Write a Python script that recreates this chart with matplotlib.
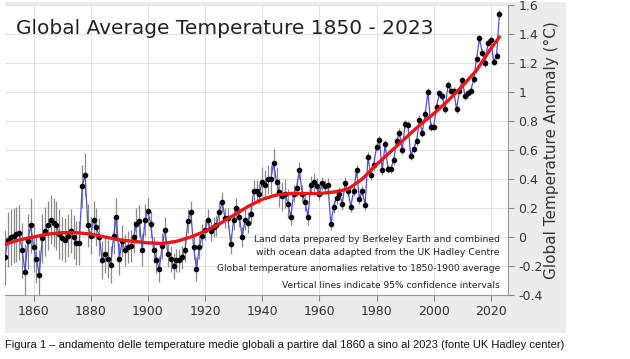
import matplotlib.pyplot as plt
import matplotlib as mpl
from matplotlib.patches import Rectangle

mpl.rcParams['axes.unicode_minus'] = False

# annual anomalies (deg C, relative to 1850-1900)
years = list(range(1850, 2024))
anomaly = [
    -0.14, -0.02, 0.00, 0.01, 0.02, 0.03, -0.09, -0.24, -0.03, 0.08,
    -0.07, -0.15, -0.26, -0.01, 0.04, 0.08, 0.12, 0.10, 0.08, 0.02,
    -0.01, -0.02, 0.01, 0.04, 0.00, -0.04, -0.04, 0.35, 0.43, 0.08,
    0.01, 0.12, 0.07, 0.00, -0.16, -0.12, -0.15, -0.19, 0.01, 0.14,
    -0.15, -0.03, -0.09, -0.07, -0.06, 0.00, 0.09, 0.11, -0.09, 0.12,
    0.18, 0.09, -0.09, -0.16, -0.22, -0.06, 0.05, -0.12, -0.15, -0.20,
    -0.16, -0.16, -0.14, -0.09, 0.11, 0.17, -0.07, -0.22, -0.07, 0.01,
    0.05, 0.12, 0.04, 0.07, 0.08, 0.17, 0.24, 0.13, 0.13, -0.05,
    0.12, 0.20, 0.14, 0.00, 0.12, 0.10, 0.16, 0.32, 0.32, 0.30,
    0.38, 0.36, 0.40, 0.40, 0.51, 0.38, 0.31, 0.28, 0.30, 0.23,
    0.14, 0.30, 0.34, 0.46, 0.30, 0.24, 0.14, 0.36, 0.38, 0.35,
    0.30, 0.37, 0.35, 0.36, 0.09, 0.21, 0.27, 0.30, 0.23, 0.37,
    0.32, 0.21, 0.32, 0.46, 0.26, 0.32, 0.22, 0.55, 0.43, 0.50,
    0.62, 0.67, 0.46, 0.64, 0.47, 0.47, 0.53, 0.66, 0.72, 0.60,
    0.78, 0.77, 0.56, 0.61, 0.66, 0.81, 0.72, 0.85, 1.00, 0.76,
    0.76, 0.90, 0.99, 0.97, 0.88, 1.05, 1.01, 1.01, 0.88, 1.01,
    1.08, 0.97, 0.99, 1.01, 1.09, 1.23, 1.37, 1.27, 1.20, 1.34,
    1.36, 1.21, 1.25, 1.54,
]

# 95% half widths per decade (1850s ... 2020s)
decade_start = list(range(1850, 2030, 10))
decade_unc = [0.19, 0.17, 0.15, 0.13, 0.11, 0.09, 0.08, 0.07, 0.07,
              0.10, 0.06, 0.045, 0.035, 0.03, 0.03, 0.025, 0.025, 0.025]

# smoothed (red) curve
smooth_years = [1850, 1855, 1860, 1865, 1870, 1875, 1880, 1885, 1890, 1895,
                1900, 1905, 1910, 1915, 1920, 1925, 1930, 1935, 1940, 1945,
                1950, 1955, 1960, 1965, 1970, 1975, 1980, 1985, 1990, 1995,
                2000, 2005, 2010, 2015, 2020, 2023]
smooth_vals = [-0.05, -0.02, 0.00, 0.02, 0.03, 0.03, 0.02, 0.00, -0.02, -0.03,
               -0.04, -0.045, -0.03, 0.00, 0.04, 0.09, 0.15, 0.21, 0.26, 0.29,
               0.30, 0.30, 0.30, 0.31, 0.33, 0.40, 0.50, 0.59, 0.68, 0.77,
               0.85, 0.94, 1.04, 1.15, 1.30, 1.38]

xticks = [1860, 1880, 1900, 1920, 1940, 1960, 1980, 2000, 2020]
yticks = [-0.4, -0.2, 0, 0.2, 0.4, 0.6, 0.8, 1, 1.2, 1.4, 1.6]
ytick_labels = ['-0.4', '-0.2', '0', '0.2', '0.4', '0.6', '0.8', '1', '1.2', '1.4', '1.6']

notes = ["Land data prepared by Berkeley Earth and combined",
         "with ocean data adapted from the UK Hadley Centre",
         "Global temperature anomalies relative to 1850-1900 average",
         "Vertical lines indicate 95% confidence intervals"]

fig = plt.figure(figsize=(6.3, 3.59), dpi=100)
fig.patch.set_facecolor('white')
# grey panel behind the chart
fig.patches.append(Rectangle((5/630, 1-333/359), 561/630, 331/359, transform=fig.transFigure,
                             facecolor='#ececec', edgecolor='none', zorder=-10))

ax = fig.add_axes([5/630, 1-295/359, 503/630, 290/359])
ax.set_zorder(2)
ax.set_facecolor('white')

unc = [decade_unc[decade_start.index(y - y % 10)] for y in years]
ax.vlines(years, [a - u for a, u in zip(anomaly, unc)], [a + u for a, u in zip(anomaly, unc)],
          color='#8a8a8a', lw=0.9, zorder=2)
ax.plot(years, anomaly, color='#5050d8', lw=0.9, zorder=3)
ax.plot(years, anomaly, 'o', color='black', ms=3.0, zorder=4)
ax.plot(smooth_years, smooth_vals, color='#ee1515', lw=2.4, zorder=5, solid_capstyle='round')

ax.set_xlim(1850, 2026)
ax.set_ylim(-0.4, 1.6)
ax.set_xticks(xticks)
ax.set_yticks(yticks)
ax.set_yticklabels(ytick_labels)
ax.yaxis.tick_right()
ax.yaxis.set_label_position('right')
ax.tick_params(colors='#888888', labelcolor='#333333', labelsize=9, length=4, width=0.8)
ax.grid(True, color='#dddddd', lw=0.6)
ax.set_axisbelow(True)
for side in ['left', 'top']:
    ax.spines[side].set_visible(False)
for side in ['right', 'bottom']:
    ax.spines[side].set_color('#999999')
ax.set_ylabel('Global Temperature Anomaly (°C)', fontsize=11, color='#333333', labelpad=1)

ax.text(0.022, 0.92, 'Global Average Temperature 1850 - 2023', transform=ax.transAxes,
        fontsize=14.5, color='#222222', va='center', ha='left')

note_y = [0.19, 0.145, 0.09, 0.034]
note_size = [6.7, 6.7, 6.6, 6.6]
for t, y, s in zip(notes, note_y, note_size):
    ax.text(0.984, y, t, transform=ax.transAxes, fontsize=s, color='#222222',
            ha='right', va='center')

fig.text(5/630, 1-345/359, 'Figura 1 \u2013 andamento delle temperature medie globali a partire dal 1860 '
         'a sino al 2023 (fonte UK Hadley center)', fontsize=8, family='Liberation Sans',
         color='#111111', ha='left', va='center')

fig.savefig('out.png', dpi=100)
